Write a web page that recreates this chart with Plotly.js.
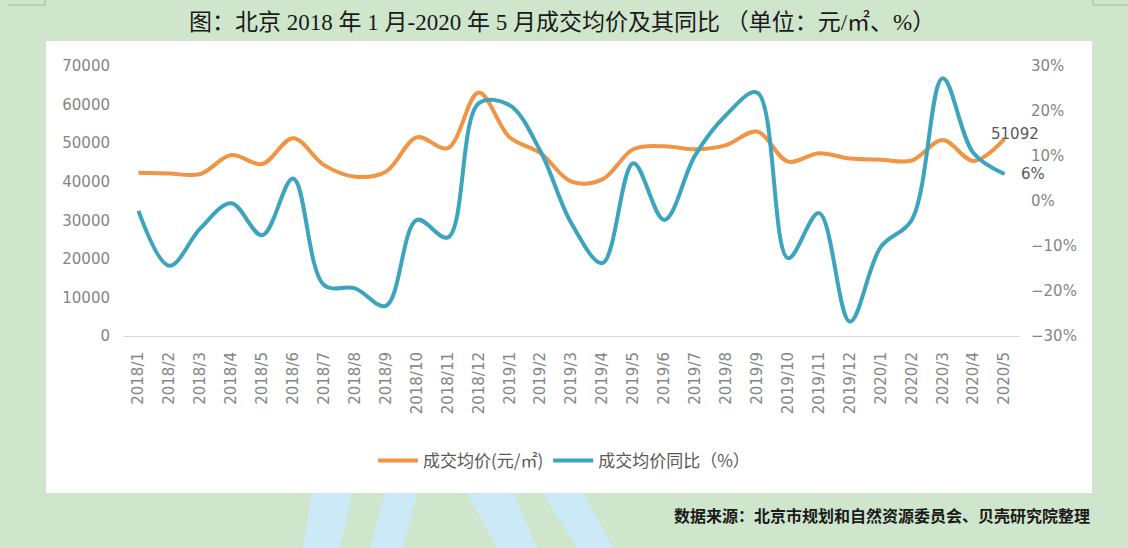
<!DOCTYPE html>
<html>
<head>
<meta charset="utf-8">
<script src="https://cdn.plot.ly/plotly-3.0.1.min.js"></script>
<style>
html,body{margin:0;padding:0;background:#cfe6cc;}
#chart{width:1128px;height:548px;}
</style>
</head>
<body>
<div id="chart"></div>
<script>
// ---- data ----
const months = ['2018/1','2018/2','2018/3','2018/4','2018/5','2018/6','2018/7','2018/8','2018/9','2018/10','2018/11','2018/12',
  '2019/1','2019/2','2019/3','2019/4','2019/5','2019/6','2019/7','2019/8','2019/9','2019/10','2019/11','2019/12',
  '2020/1','2020/2','2020/3','2020/4','2020/5'];
const avgPrice = [42300, 42100, 42000, 46900, 44600, 51300, 44300, 41300, 42600, 51500, 48700, 63100,
  51500, 47400, 40000, 40600, 48400, 49200, 48400, 49500, 53000, 45200, 47400, 46000,
  45700, 45500, 50800, 45400, 51092];
const yoyPct = [-2.2, -14.4, -6.1, -0.5, -7.6, 5.0, -18.7, -19.4, -23.3, -4.2, -8.1, 21.7,
  21.3, 11.0, -5.0, -13.8, 8.4, -4.2, 10.2, 19.1, 24.1, -12.7, -2.7, -26.8,
  -10.2, -4.2, 27.3, 10.6, 6];
const seriesNames = ['成交均价(元/㎡)', '成交均价同比（%）'];
const titleText = '图：北京 2018 年 1 月-2020 年 5 月成交均价及其同比 （单位：元/㎡、%）';
const sourceText = '数据来源：北京市规划和自然资源委员会、贝壳研究院整理';

// ---- layout helpers (pixel -> paper) ----
const W = 1128, H = 548, ML = 123, MR = 108, MT = 66, MB = 212;
const PW = W - ML - MR, PH = H - MT - MB;
const px = x => (x - ML) / PW;
const py = y => (H - MB - y) / PH;
function poly(pts){ return 'M' + pts.map(p => px(p[0]).toFixed(5) + ',' + py(p[1]).toFixed(5)).join(' L') + ' Z'; }

const orange = '#f19443';
const teal = '#3ca4bd';
const tickFont = {family: 'DejaVu Sans, Noto Sans', size: 15, color: '#858585'};

const traces = [
  {x: months, y: avgPrice, name: seriesNames[0], type: 'scatter', mode: 'lines',
   line: {color: orange, width: 4, shape: 'spline', smoothing: 1}, yaxis: 'y'},
  {x: months, y: yoyPct, name: seriesNames[1], type: 'scatter', mode: 'lines',
   line: {color: teal, width: 4, shape: 'spline', smoothing: 1}, yaxis: 'y2'}
];

const stripe = 'rgba(204,233,248,1)';
const deco = '#a9b5a8';
const shapes = [
  {type:'rect', xref:'paper', yref:'paper', x0:px(46), x1:px(1092), y0:py(493), y1:py(41),
   fillcolor:'#ffffff', line:{width:0}, layer:'below'},
  {type:'path', xref:'paper', yref:'paper', path: poly([[312,493],[352,493],[340,548],[303,548]]), fillcolor:stripe, line:{width:0}, layer:'below'},
  {type:'path', xref:'paper', yref:'paper', path: poly([[385,493],[417,493],[403,548],[370,548]]), fillcolor:stripe, line:{width:0}, layer:'below'},
  {type:'path', xref:'paper', yref:'paper', path: poly([[467,493],[513,493],[537,548],[497,548]]), fillcolor:stripe, line:{width:0}, layer:'below'},
  {type:'path', xref:'paper', yref:'paper', path: poly([[543,493],[583,493],[613,548],[577,548]]), fillcolor:stripe, line:{width:0}, layer:'below'},
  {type:'line', xref:'paper', yref:'paper', x0:px(8), x1:px(45), y0:py(5), y1:py(5), line:{color:deco, width:1}},
  {type:'line', xref:'paper', yref:'paper', x0:px(45), x1:px(45), y0:py(0), y1:py(5), line:{color:deco, width:1}},
  {type:'line', xref:'paper', yref:'paper', x0:px(1093), x1:px(1128), y0:py(5), y1:py(5), line:{color:deco, width:1}},
  {type:'line', xref:'paper', yref:'paper', x0:px(1093), x1:px(1093), y0:py(0), y1:py(5), line:{color:deco, width:1}}
];

const last = months.length - 1;
const annotations = [
  {xref:'paper', yref:'paper', x:px(562), y:py(22), xanchor:'center', yanchor:'middle',
   text: titleText, showarrow:false,
   font:{family:'Liberation Serif, Noto Sans CJK SC', size:23, color:'#1a1a1a'}},
  {xref:'paper', yref:'paper', x:px(1092), y:py(515), xanchor:'right', yanchor:'middle',
   text: '<b>' + sourceText + '</b>', showarrow:false,
   font:{family:'Noto Sans CJK SC', size:16, color:'#1a1a1a'}},
  {x: months[last], y: avgPrice[last], xref:'x', yref:'y', text: String(avgPrice[last]),
   showarrow:true, arrowhead:0, arrowwidth:1, arrowcolor:'#a6a6a6', ax:10, ay:6,
   xanchor:'center', yanchor:'bottom', standoff:0,
   font:{family:'DejaVu Sans', size:15, color:'#595959'}},
  {x: months[last], y: yoyPct[last], xref:'x', yref:'y2', text: String(yoyPct[last]) + '%',
   showarrow:false, xshift:28, xanchor:'center', yanchor:'middle',
   font:{family:'DejaVu Sans', size:15, color:'#595959'}}
];

const layout = {
  width: W, height: H,
  margin: {l: ML, r: MR, t: MT, b: MB, pad: 0},
  paper_bgcolor: '#cfe6cc',
  plot_bgcolor: 'rgba(0,0,0,0)',
  showlegend: true,
  legend: {orientation:'h', xref:'container', yref:'container', x:0.5, y:1 - 461/H,
    xanchor:'center', yanchor:'middle', bgcolor:'rgba(0,0,0,0)',
    font:{family:'Noto Sans CJK SC', size:17, color:'#595959'}, itemwidth:40, tracegroupgap:0},
  xaxis: {type:'category', tickangle:-90, showgrid:false, zeroline:false, dtick:1,
    range:[-0.5, months.length - 0.5],
    showline:true, linecolor:'#d9d9d9', linewidth:1, ticks:'', tickfont: tickFont,
    ticklabelstandoff: 9, fixedrange:true},
  yaxis: {range:[0,70000], dtick:10000, tickformat:'d', showgrid:false, zeroline:false,
    showline:false, ticks:'', tickfont: tickFont, ticklabelstandoff: 12, fixedrange:true},
  yaxis2: {range:[-30,30], dtick:10, ticksuffix:'%', overlaying:'y', side:'right',
    showgrid:false, zeroline:false, showline:false, ticks:'', tickfont: tickFont,
    ticklabelstandoff: 10, fixedrange:true},
  shapes: shapes,
  annotations: annotations
};

Plotly.newPlot('chart', traces, layout, {displayModeBar:false, staticPlot:true});
</script>
</body>
</html>
